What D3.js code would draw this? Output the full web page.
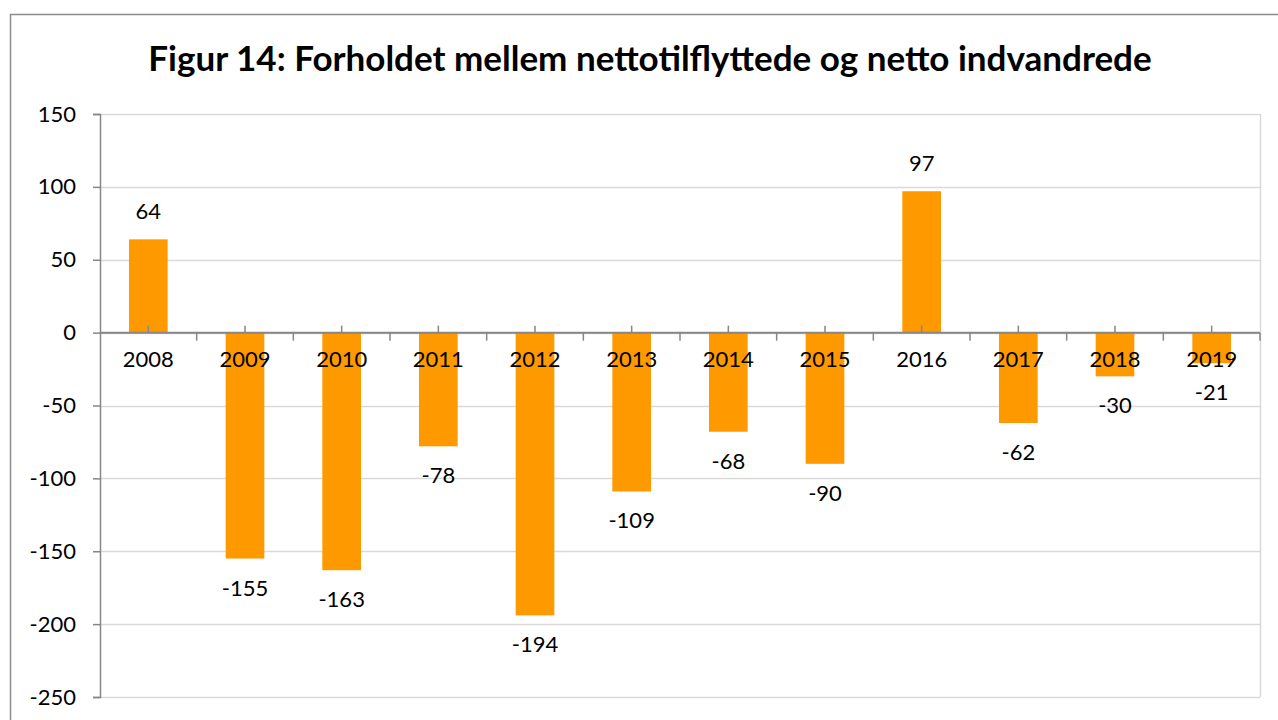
<!DOCTYPE html>
<html>
<head>
<meta charset="utf-8">
<script src="https://cdn.jsdelivr.net/npm/d3@7"></script>
<style>
  body { margin: 0; background: #fff; }
  text { font-family: Lato, "Open Sans", sans-serif; }
</style>
</head>
<body>
<div id="chart"></div>
<script>
  let years = ['2008', '2009', '2010', '2011', '2012', '2013', '2014', '2015', '2016', '2017', '2018', '2019'];
  let values = [64, -155, -163, -78, -194, -109, -68, -90, 97, -62, -30, -21];
  let yTicks = [150, 100, 50, 0, -50, -100, -150, -200, -250];

  let W = 1278, H = 720;
  let plot = { left: 100, right: 1260, top: 114, bottom: 697 };

  let svg = d3.select('#chart').append('svg')
    .attr('width', W).attr('height', H);

  // outer chart border
  svg.append('rect')
    .attr('x', 10.5).attr('y', 14.5)
    .attr('width', W).attr('height', H)
    .attr('fill', 'none').attr('stroke', '#8c8c8c').attr('stroke-width', 1.5);

  svg.append('text')
    .attr('x', 650).attr('y', 71)
    .attr('text-anchor', 'middle')
    .attr('font-size', 35).attr('font-weight', 'bold')
    .attr('fill', '#000')
    .text('Figur 14: Forholdet mellem nettotilflyttede og netto indvandrede');

  let x = d3.scaleBand().domain(years).range([plot.left, plot.right]).paddingInner(0).paddingOuter(0);
  let y = d3.scaleLinear().domain([-250, 150]).range([plot.bottom, plot.top]);
  let barW = x.bandwidth() * 0.4;

  // gridlines
  svg.append('g').selectAll('line').data(yTicks).enter().append('line')
    .attr('x1', plot.left).attr('x2', plot.right)
    .attr('y1', d => Math.round(y(d)) + 0.5).attr('y2', d => Math.round(y(d)) + 0.5)
    .attr('stroke', '#d9d9d9').attr('stroke-width', 1.5);

  svg.append('line')
    .attr('x1', plot.right + 0.5).attr('x2', plot.right + 0.5)
    .attr('y1', plot.top).attr('y2', plot.bottom)
    .attr('stroke', '#d9d9d9').attr('stroke-width', 1.5);

  // y axis
  let yAxis = svg.append('g')
    .attr('transform', `translate(${plot.left}, 0)`)
    .call(d3.axisLeft(y).tickValues(yTicks).tickFormat(d => String(d)).tickSize(7).tickPadding(17));
  yAxis.select('.domain').attr('stroke', '#868686').attr('stroke-width', 1.5);
  yAxis.selectAll('.tick line').attr('stroke', '#868686').attr('stroke-width', 1.5);
  yAxis.selectAll('.tick text').attr('font-size', 22).attr('fill', '#000')
    .attr('font-family', 'Lato, "Open Sans", sans-serif');

  // bars
  svg.append('g').selectAll('rect').data(values).enter().append('rect')
    .attr('x', (d, i) => x(years[i]) + (x.bandwidth() - barW) / 2)
    .attr('y', d => y(Math.max(0, d)))
    .attr('width', barW)
    .attr('height', d => Math.abs(y(d) - y(0)))
    .attr('fill', '#ff9900');

  // x axis line with ticks
  let y0 = y(0);
  svg.append('line')
    .attr('x1', plot.left).attr('x2', plot.right)
    .attr('y1', y0).attr('y2', y0)
    .attr('stroke', '#868686').attr('stroke-width', 2);
  svg.append('g').selectAll('line.c').data(years).enter().append('line')
    .attr('x1', d => x(d) + x.bandwidth() / 2).attr('x2', d => x(d) + x.bandwidth() / 2)
    .attr('y1', y0 - 7).attr('y2', y0)
    .attr('stroke', '#868686').attr('stroke-width', 1.5);
  svg.append('g').selectAll('line.b').data(years.slice(1).concat(['end'])).enter().append('line')
    .attr('x1', (d, i) => plot.left + x.step() * (i + 1)).attr('x2', (d, i) => plot.left + x.step() * (i + 1))
    .attr('y1', y0).attr('y2', y0 + 8)
    .attr('stroke', '#868686').attr('stroke-width', 1.5);

  // category labels
  svg.append('g').selectAll('text').data(years).enter().append('text')
    .attr('x', d => x(d) + x.bandwidth() / 2)
    .attr('y', y0 + 34)
    .attr('text-anchor', 'middle')
    .attr('font-size', 22).attr('fill', '#000')
    .text(d => d);

  // value labels
  svg.append('g').selectAll('text').data(values).enter().append('text')
    .attr('x', (d, i) => x(years[i]) + x.bandwidth() / 2)
    .attr('y', d => d >= 0 ? y(d) - 20 : y(d) + 37)
    .attr('text-anchor', 'middle')
    .attr('font-size', 22).attr('fill', '#000')
    .text(d => d);
</script>
</body>
</html>
